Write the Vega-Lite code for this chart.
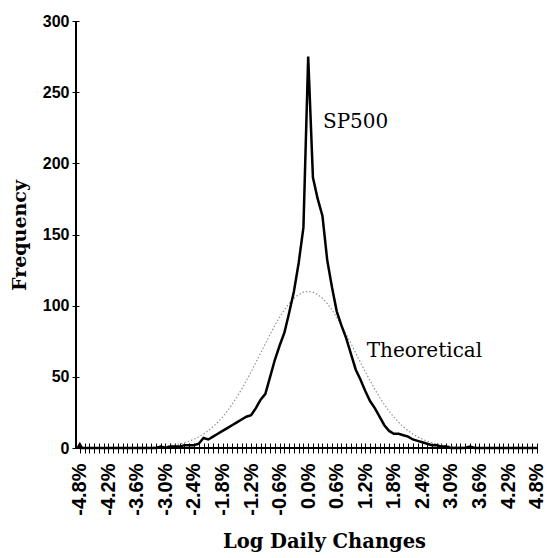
{
  "$schema": "https://vega.github.io/schema/vega-lite/v6.json",
  "description": "SP500 log daily changes against a theoretical normal distribution",
  "width": 462,
  "height": 427,
  "autosize": "none",
  "padding": {"left": 76, "top": 21, "right": 15, "bottom": 110},
  "background": "white",
  "config": {
    "view": {"stroke": null},
    "axis": {"grid": false, "domain": false, "tickColor": "black", "labelColor": "black", "titleColor": "black"}
  },
  "datasets": {
    "freq": [
      {"pct": -4.8, "sp": 0, "theo": 0}, {"pct": -4.7, "sp": 0, "theo": 0}, {"pct": -4.6, "sp": 0, "theo": 0},
      {"pct": -4.5, "sp": 0, "theo": 0}, {"pct": -4.4, "sp": 0, "theo": 0}, {"pct": -4.3, "sp": 0, "theo": 0},
      {"pct": -4.2, "sp": 0, "theo": 0}, {"pct": -4.1, "sp": 0, "theo": 0}, {"pct": -4.0, "sp": 0, "theo": 0},
      {"pct": -3.9, "sp": 0, "theo": 0}, {"pct": -3.8, "sp": 0, "theo": 0}, {"pct": -3.7, "sp": 0, "theo": 0.1},
      {"pct": -3.6, "sp": 0, "theo": 0.2}, {"pct": -3.5, "sp": 0, "theo": 0.2}, {"pct": -3.4, "sp": 0, "theo": 0.3},
      {"pct": -3.3, "sp": 0, "theo": 0.5}, {"pct": -3.2, "sp": 0, "theo": 0.7}, {"pct": -3.1, "sp": 1, "theo": 0.9},
      {"pct": -3.0, "sp": 0, "theo": 1.2}, {"pct": -2.9, "sp": 1, "theo": 1.6}, {"pct": -2.8, "sp": 1, "theo": 2.2},
      {"pct": -2.7, "sp": 1, "theo": 2.9}, {"pct": -2.6, "sp": 2, "theo": 3.7}, {"pct": -2.5, "sp": 2, "theo": 4.8},
      {"pct": -2.4, "sp": 2, "theo": 6.2}, {"pct": -2.3, "sp": 3, "theo": 7.8}, {"pct": -2.2, "sp": 7, "theo": 9.8},
      {"pct": -2.1, "sp": 6, "theo": 12.1}, {"pct": -2.0, "sp": 8, "theo": 14.9}, {"pct": -1.9, "sp": 10, "theo": 18.1},
      {"pct": -1.8, "sp": 12, "theo": 21.8}, {"pct": -1.7, "sp": 14, "theo": 25.9}, {"pct": -1.6, "sp": 16, "theo": 30.6},
      {"pct": -1.5, "sp": 18, "theo": 35.7}, {"pct": -1.4, "sp": 20, "theo": 41.3}, {"pct": -1.3, "sp": 22, "theo": 47.3},
      {"pct": -1.2, "sp": 23, "theo": 53.5}, {"pct": -1.1, "sp": 28, "theo": 60.1}, {"pct": -1.0, "sp": 34, "theo": 66.7},
      {"pct": -0.9, "sp": 38, "theo": 73.4}, {"pct": -0.8, "sp": 50, "theo": 79.9}, {"pct": -0.7, "sp": 62, "theo": 86.1},
      {"pct": -0.6, "sp": 72, "theo": 91.9}, {"pct": -0.5, "sp": 81, "theo": 97.1}, {"pct": -0.4, "sp": 95, "theo": 101.5},
      {"pct": -0.3, "sp": 110, "theo": 105.2}, {"pct": -0.2, "sp": 130, "theo": 107.8}, {"pct": -0.1, "sp": 155, "theo": 109.5},
      {"pct": 0.0, "sp": 275, "theo": 110},
      {"pct": 0.1, "sp": 190, "theo": 109.5}, {"pct": 0.2, "sp": 175, "theo": 107.8}, {"pct": 0.3, "sp": 163, "theo": 105.2},
      {"pct": 0.4, "sp": 132, "theo": 101.5}, {"pct": 0.5, "sp": 113, "theo": 97.1}, {"pct": 0.6, "sp": 96, "theo": 91.9},
      {"pct": 0.7, "sp": 86, "theo": 86.1}, {"pct": 0.8, "sp": 77, "theo": 79.9}, {"pct": 0.9, "sp": 66, "theo": 73.4},
      {"pct": 1.0, "sp": 55, "theo": 66.7}, {"pct": 1.1, "sp": 48, "theo": 60.1}, {"pct": 1.2, "sp": 40, "theo": 53.5},
      {"pct": 1.3, "sp": 33, "theo": 47.3}, {"pct": 1.4, "sp": 28, "theo": 41.3}, {"pct": 1.5, "sp": 22, "theo": 35.7},
      {"pct": 1.6, "sp": 16, "theo": 30.6}, {"pct": 1.7, "sp": 12, "theo": 25.9}, {"pct": 1.8, "sp": 10, "theo": 21.8},
      {"pct": 1.9, "sp": 10, "theo": 18.1}, {"pct": 2.0, "sp": 9, "theo": 14.9}, {"pct": 2.1, "sp": 8, "theo": 12.1},
      {"pct": 2.2, "sp": 6, "theo": 9.8}, {"pct": 2.3, "sp": 5, "theo": 7.8}, {"pct": 2.4, "sp": 4, "theo": 6.2},
      {"pct": 2.5, "sp": 3, "theo": 4.8}, {"pct": 2.6, "sp": 2, "theo": 3.7}, {"pct": 2.7, "sp": 2, "theo": 2.9},
      {"pct": 2.8, "sp": 1, "theo": 2.2}, {"pct": 2.9, "sp": 1, "theo": 1.6}, {"pct": 3.0, "sp": 0, "theo": 1.2},
      {"pct": 3.1, "sp": 0, "theo": 0.9}, {"pct": 3.2, "sp": 0, "theo": 0.7}, {"pct": 3.3, "sp": 0, "theo": 0.5},
      {"pct": 3.4, "sp": 1, "theo": 0.3}, {"pct": 3.5, "sp": 0, "theo": 0.2}, {"pct": 3.6, "sp": 0, "theo": 0.2},
      {"pct": 3.7, "sp": 0, "theo": 0.1}, {"pct": 3.8, "sp": 0, "theo": 0}, {"pct": 3.9, "sp": 0, "theo": 0},
      {"pct": 4.0, "sp": 0, "theo": 0}, {"pct": 4.1, "sp": 0, "theo": 0}, {"pct": 4.2, "sp": 0, "theo": 0},
      {"pct": 4.3, "sp": 0, "theo": 0}, {"pct": 4.4, "sp": 0, "theo": 0}, {"pct": 4.5, "sp": 0, "theo": 0},
      {"pct": 4.6, "sp": 0, "theo": 0}, {"pct": 4.7, "sp": 0, "theo": 0}, {"pct": 4.8, "sp": 0, "theo": 0}
    ],
    "notes": [
      {"pct": 0.31, "count": 224.7, "label": "SP500"},
      {"pct": 1.23, "count": 64.1, "label": "Theoretical"}
    ],
    "marker": [{"pct": -4.8, "count": 2.5}]
  },
  "data": {"name": "freq"},
  "layer": [
    {
      "mark": {"type": "line", "color": "#8a8a8a", "strokeWidth": 1.1, "strokeDash": [1.5, 2]},
      "encoding": {
        "x": {
          "field": "pct", "type": "quantitative", "title": "Log Daily Changes",
          "scale": {"domain": [-4.88, 4.83], "nice": false, "zero": false},
          "axis": {
            "values": [-4.8,-4.7,-4.6,-4.5,-4.4,-4.3,-4.2,-4.1,-4.0,-3.9,-3.8,-3.7,-3.6,-3.5,-3.4,-3.3,-3.2,-3.1,-3.0,-2.9,-2.8,-2.7,-2.6,-2.5,-2.4,-2.3,-2.2,-2.1,-2.0,-1.9,-1.8,-1.7,-1.6,-1.5,-1.4,-1.3,-1.2,-1.1,-1.0,-0.9,-0.8,-0.7,-0.6,-0.5,-0.4,-0.3,-0.2,-0.1,0,0.1,0.2,0.3,0.4,0.5,0.6,0.7,0.8,0.9,1.0,1.1,1.2,1.3,1.4,1.5,1.6,1.7,1.8,1.9,2.0,2.1,2.2,2.3,2.4,2.5,2.6,2.7,2.8,2.9,3.0,3.1,3.2,3.3,3.4,3.5,3.6,3.7,3.8,3.9,4.0,4.1,4.2,4.3,4.4,4.5,4.6,4.7,4.8],
            "tickCount": 200,
            "labelExpr": "abs(round(datum.value * 10)) % 6 == 0 ? (datum.value < -0.01 ? '-' : '') + format(abs(datum.value), '.1f') + '%' : ''",
            "labelOverlap": false,
            "labelAngle": -90,
            "labelFont": "Liberation Sans",
            "labelFontWeight": "bold",
            "labelFontSize": 20,
            "labelPadding": 10,
            "offset": -5,
            "tickSize": 10,
            "tickWidth": 1,
            "titleFont": "DejaVu Serif",
            "titleFontWeight": "bold",
            "titleFontSize": 19.5,
            "titleX": 248,
            "titleY": 104,
            "titleAlign": "center",
            "titleBaseline": "alphabetic"
          }
        },
        "y": {
          "field": "theo", "type": "quantitative", "title": "Frequency",
          "scale": {"domain": [0, 300], "nice": false},
          "axis": {
            "values": [0, 50, 100, 150, 200, 250, 300],
            "tickCount": 20,
            "labelFont": "Liberation Sans",
            "labelFontWeight": "bold",
            "labelFontSize": 16,
            "labelPadding": 3,
            "offset": -3,
            "tickSize": 7,
            "titleFont": "DejaVu Serif",
            "titleFontWeight": "bold",
            "titleFontSize": 19,
            "titleX": -54,
            "titleY": 214,
            "titleAlign": "center",
            "titleBaseline": "alphabetic"
          }
        }
      }
    },
    {
      "mark": {"type": "line", "color": "black", "strokeWidth": 2.5},
      "encoding": {
        "x": {"field": "pct", "type": "quantitative", "title": "Log Daily Changes"},
        "y": {"field": "sp", "type": "quantitative", "title": "Frequency"}
      }
    },
    {
      "mark": {"type": "rule", "color": "black", "strokeWidth": 1},
      "encoding": {"y": {"datum": 0, "type": "quantitative", "title": "Frequency"}}
    },
    {
      "mark": {"type": "rule", "color": "black", "strokeWidth": 1},
      "encoding": {"x": {"datum": -4.88, "type": "quantitative", "title": "Log Daily Changes"}}
    },
    {
      "data": {"name": "marker"},
      "mark": {"type": "point", "shape": "triangle-up", "filled": true, "color": "black", "size": 40, "opacity": 1},
      "encoding": {
        "x": {"field": "pct", "type": "quantitative", "title": "Log Daily Changes"},
        "y": {"field": "count", "type": "quantitative", "title": "Frequency"}
      }
    },
    {
      "data": {"name": "notes"},
      "mark": {"type": "text", "align": "left", "baseline": "alphabetic", "font": "DejaVu Serif", "fontSize": 20, "color": "black"},
      "encoding": {
        "x": {"field": "pct", "type": "quantitative", "title": "Log Daily Changes"},
        "y": {"field": "count", "type": "quantitative", "title": "Frequency"},
        "text": {"field": "label"}
      }
    }
  ]
}
